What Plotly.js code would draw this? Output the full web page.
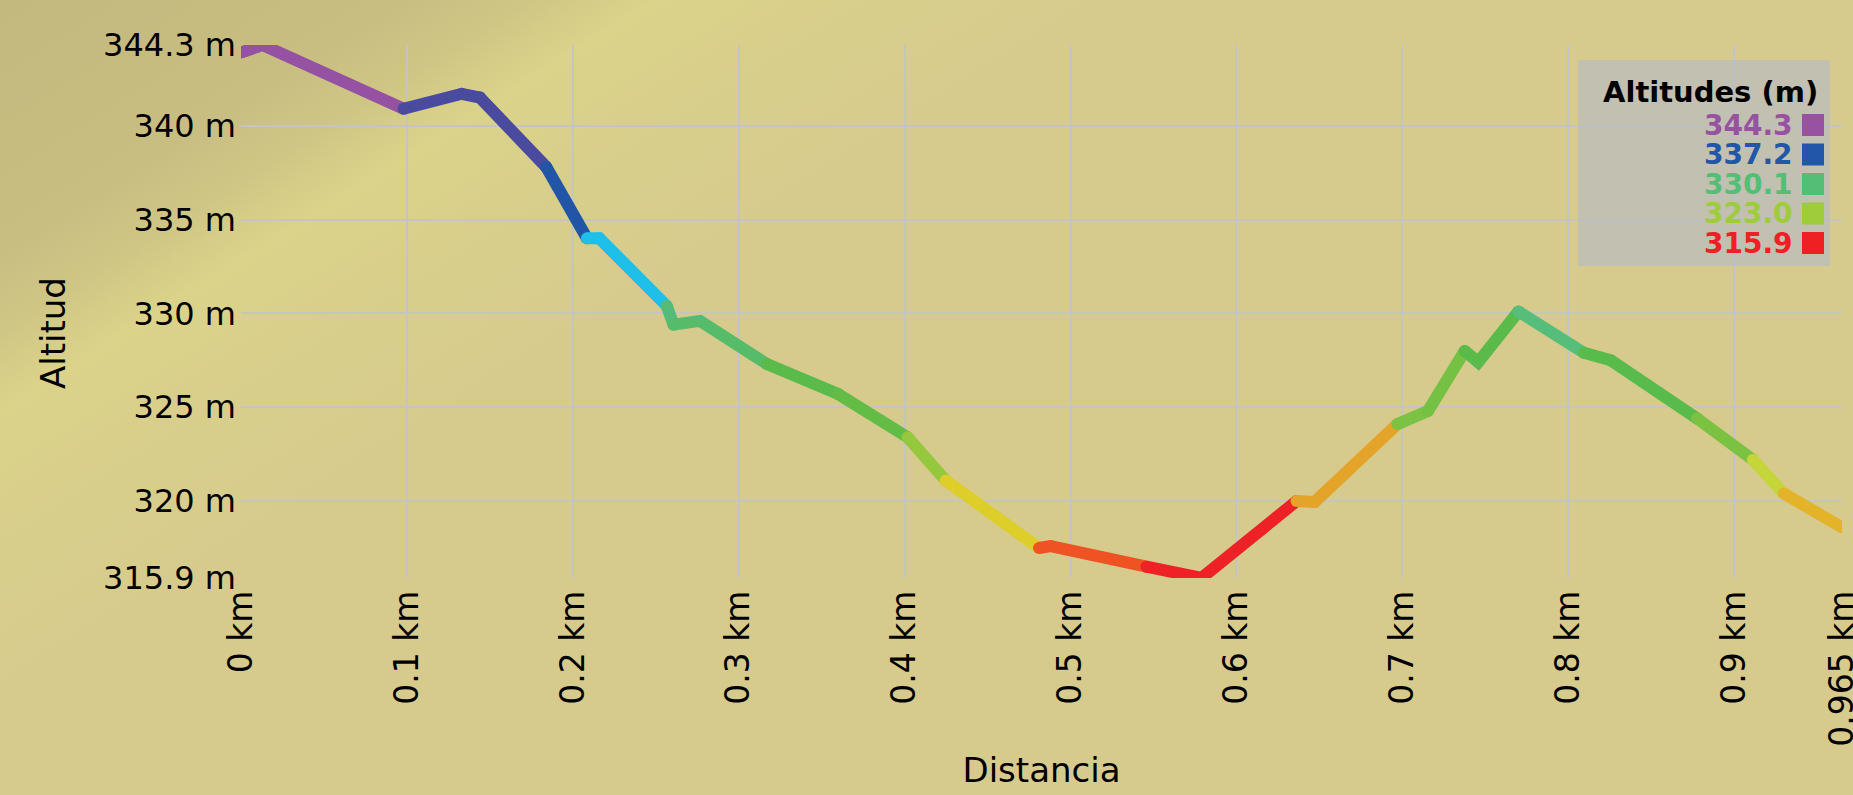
<!DOCTYPE html>
<html>
<head>
<meta charset="utf-8">
<script src="https://cdn.plot.ly/plotly-3.0.1.min.js"></script>
<style>
html, body { margin:0; padding:0; width:1853px; height:795px; overflow:hidden;
  background: linear-gradient(148deg, #C3B97E 0%, #C8BE82 13%, #CFC685 17%, #DBD38A 21%, #D9CF8B 26%, #D6CB8D 36%, #D6CB8D 100%); }
#chart { width:1853px; height:795px; }
</style>
</head>
<body>
<div id="chart"></div>
<script>
// ---- data ----
const distanceKm = [0, 0.013, 0.098, 0.133, 0.144, 0.184, 0.2085, 0.216, 0.2566, 0.2607, 0.2767,
  0.317, 0.360, 0.4018, 0.4247, 0.481, 0.488, 0.5458, 0.579, 0.6362, 0.6472, 0.697, 0.7155,
  0.7376, 0.7457, 0.770, 0.8094, 0.8256, 0.8777, 0.9113, 0.9299, 0.965];
const altitudeM = [343.9, 344.3, 340.9, 341.7, 341.5, 337.8, 334.0, 334.0, 330.4, 329.4, 329.6,
  327.3, 325.7, 323.4, 321.1, 317.5, 317.6, 316.5, 315.9, 320.0, 319.95, 324.1, 324.8,
  328.0, 327.4, 330.1, 327.9, 327.5, 324.4, 322.2, 320.4, 318.6];
// colour of the segment that starts at each point
const segmentColors = ['#9551A2', '#9551A2', '#4A4B9F', '#4A4B9F', '#4A4B9F', '#2255A5', '#1EBFE8',
  '#1EBFE8', '#55BB78', '#56BC6A', '#56BC6A', '#5ABB4A', '#62BC46', '#95C83C', '#DDCE2A',
  '#EF5223', '#EF5223', '#EE2226', '#EE2226', '#E4A329', '#E4A329', '#7CC244', '#74C144',
  '#5BBB4A', '#5BBB4A', '#57BD7A', '#58BB4C', '#58BB4C', '#7CC242', '#C5D63A', '#E3B32A'];

const xTickVals = [0, 0.1, 0.2, 0.3, 0.4, 0.5, 0.6, 0.7, 0.8, 0.9, 0.965];
const xTickText = ['0 km', '0.1 km', '0.2 km', '0.3 km', '0.4 km', '0.5 km', '0.6 km', '0.7 km', '0.8 km', '0.9 km', '0.965 km'];
const yTickVals = [315.9, 320, 325, 330, 335, 340, 344.3];
const yTickText = ['315.9 m', '320 m', '325 m', '330 m', '335 m', '340 m', '344.3 m'];

const xTitle = 'Distancia';
const yTitle = 'Altitud';
const legendTitle = 'Altitudes (m)';
const legendLabels = ['344.3', '337.2', '330.1', '323.0', '315.9'];
const legendColors = ['#9752A1', '#2256A8', '#55BE76', '#9ECC3A', '#EE2024'];

// ---- build segment traces (consecutive same-colour segments grouped) ----
const traces = [];
let i = 0;
while (i < segmentColors.length) {
  let j = i;
  while (j + 1 < segmentColors.length && segmentColors[j + 1] === segmentColors[i]) j++;
  traces.push({
    type: 'scatter', mode: 'lines+markers',
    x: distanceKm.slice(i, j + 2), y: altitudeM.slice(i, j + 2),
    line: { color: segmentColors[i], width: 12 },
    marker: { color: segmentColors[i], size: 12 },
    hoverinfo: 'skip', showlegend: false
  });
  i = j + 1;
}

// ---- layout ----
const W = 1853, H = 795;
const M = { l: 241, r: 11, t: 45, b: 217 };
const pw = W - M.l - M.r, ph = H - M.t - M.b;
const px = v => (v - M.l) / pw;
const py = v => (H - M.b - v) / ph;

const shapes = [{
  type: 'rect', xref: 'paper', yref: 'paper',
  x0: px(1578), x1: px(1830), y0: py(266), y1: py(60),
  fillcolor: 'rgba(186,188,190,0.75)', line: { width: 0 }, layer: 'above'
}];
const annotations = [{
  xref: 'paper', yref: 'paper', x: px(1820), y: py(92), xanchor: 'right', yanchor: 'middle', align: 'right',
  text: '<b>' + legendTitle + '</b>', showarrow: false,
  font: { family: 'DejaVu Sans', size: 29, color: '#000' }
}, {
  xref: 'paper', yref: 'paper', x: px(53), y: py(333), xanchor: 'center', yanchor: 'middle',
  text: yTitle, textangle: -90, showarrow: false,
  font: { family: 'DejaVu Sans', size: 34, color: '#000' }
}];
legendLabels.forEach((lab, k) => {
  const cy = 125 + k * 29.5;
  annotations.push({
    xref: 'paper', yref: 'paper', x: px(1795), y: py(cy), xanchor: 'right', yanchor: 'middle', align: 'right',
    text: '<b>' + lab + '</b>', showarrow: false,
    font: { family: 'DejaVu Sans', size: 28, color: legendColors[k] }
  });
  shapes.push({
    type: 'rect', xref: 'paper', yref: 'paper',
    x0: px(1802), x1: px(1824), y0: py(cy + 11), y1: py(cy - 11),
    fillcolor: legendColors[k], line: { width: 0 }, layer: 'above'
  });
});

const layout = {
  width: W, height: H, margin: M,
  paper_bgcolor: 'rgba(0,0,0,0)', plot_bgcolor: 'rgba(0,0,0,0)',
  font: { family: 'DejaVu Sans', color: '#000' },
  showlegend: false,
  xaxis: {
    range: [0, 0.965], tickvals: xTickVals, ticktext: xTickText, tickangle: -90,
    tickfont: { family: 'DejaVu Sans', size: 33, color: '#000' },
    ticklabeloverflow: 'allow', ticklabelstandoff: 5,
    showgrid: true, gridcolor: '#C4C4C4', gridwidth: 2, zeroline: false, showline: false,
    ticks: '', fixedrange: true,
    title: { text: xTitle, font: { family: 'DejaVu Sans', size: 34, color: '#000' }, standoff: 12 }
  },
  yaxis: {
    range: [315.9, 344.3], tickvals: yTickVals, ticktext: yTickText,
    tickfont: { family: 'DejaVu Sans', size: 32, color: '#000' },
    ticklabelstandoff: 4,
    showgrid: true, gridcolor: '#C4C4C4', gridwidth: 2, zeroline: false, showline: false,
    ticks: '', fixedrange: true
  },
  shapes: shapes,
  annotations: annotations
};

Plotly.newPlot('chart', traces, layout, { displayModeBar: false, staticPlot: true });
</script>
</body>
</html>
